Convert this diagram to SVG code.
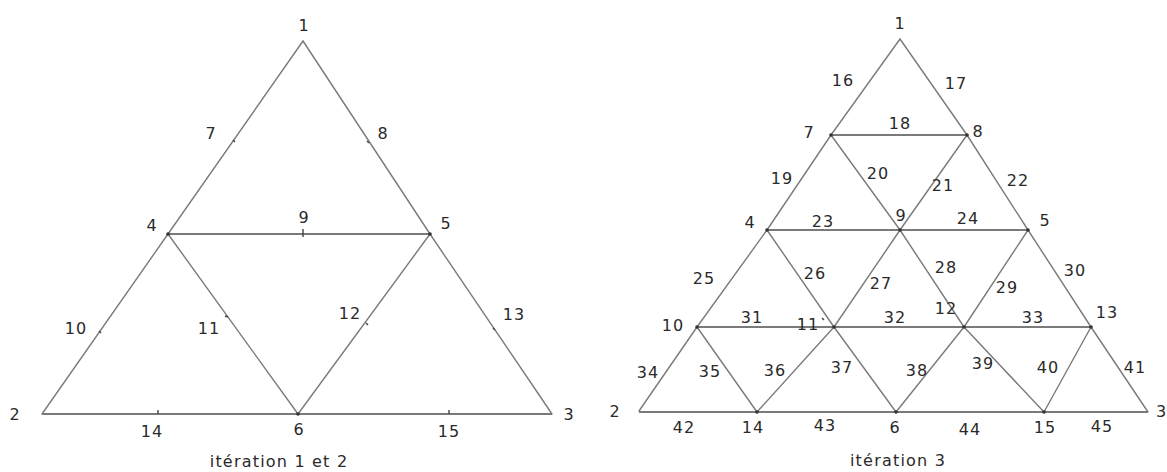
<svg xmlns="http://www.w3.org/2000/svg" width="1167" height="472" viewBox="0 0 1167 472">
<style>
  .ln { stroke: #7a7a7a; stroke-width: 1.4; fill: none; stroke-linecap: round; }
  .hz { stroke: #7a7a7a; stroke-width: 1.8; fill: none; }
  .tk { stroke: #444; stroke-width: 1.4; }
  .pt { fill: #333; }
  text { font-family: "DejaVu Sans", "Liberation Sans", sans-serif; font-size: 16px; fill: #2a2a2a; text-anchor: middle; letter-spacing: 1px; }
  .title { font-size: 16px; letter-spacing: 1.2px; }
</style>
<rect width="1167" height="472" fill="#ffffff"/>

<!-- ================= LEFT: itération 1 et 2 ================= -->
<g id="connectors-left">
  <line class="ln" x1="303" y1="41" x2="168" y2="234"/>
  <line class="ln" x1="168" y1="234" x2="42" y2="414"/>
  <line class="ln" x1="303" y1="41" x2="430" y2="234"/>
  <line class="ln" x1="430" y1="234" x2="552" y2="414"/>
  <line class="hz" x1="168" y1="234" x2="430" y2="234"/>
  <line class="hz" x1="42" y1="414" x2="552" y2="414"/>
  <line class="ln" x1="168" y1="234" x2="298" y2="414"/>
  <line class="ln" x1="430" y1="234" x2="298" y2="414"/>
</g>
<g id="left-n1"><text x="304" y="31">1</text></g>
<g id="left-n2"><text x="15" y="420">2</text></g>
<g id="left-n3"><text x="569" y="420">3</text></g>
<g id="left-n4"><circle class="pt" cx="168" cy="234" r="1.8"/><text x="152" y="231">4</text></g>
<g id="left-n5"><circle class="pt" cx="430" cy="234" r="1.8"/><text x="446" y="229">5</text></g>
<g id="left-n6"><circle class="pt" cx="298" cy="414" r="1.8"/><text x="299" y="435">6</text></g>
<g id="left-n7"><line class="tk" x1="233" y1="140" x2="235" y2="142"/><text x="211" y="139">7</text></g>
<g id="left-n8"><line class="tk" x1="367" y1="141" x2="369" y2="143"/><text x="383" y="139">8</text></g>
<g id="left-n9"><line class="tk" x1="303" y1="229" x2="303" y2="237"/><text x="304" y="223">9</text></g>
<g id="left-n10"><line class="tk" x1="99" y1="331" x2="101" y2="333"/><text x="76" y="334">10</text></g>
<g id="left-n11"><line class="tk" x1="225" y1="316" x2="228" y2="317"/><text x="209" y="334">11</text></g>
<g id="left-n12"><line class="tk" x1="366" y1="323" x2="368" y2="325"/><text x="350" y="319">12</text></g>
<g id="left-n13"><line class="tk" x1="493" y1="328" x2="495" y2="330"/><text x="514" y="320">13</text></g>
<g id="left-n14"><line class="tk" x1="158" y1="410" x2="158" y2="414"/><text x="152" y="437">14</text></g>
<g id="left-n15"><line class="tk" x1="449" y1="410" x2="449" y2="414"/><text x="449" y="437">15</text></g>
<text class="title" x="279" y="467">itération 1 et 2</text>

<!-- ================= RIGHT: itération 3 ================= -->
<g id="connectors-right">
  <line class="ln" x1="900" y1="39" x2="831" y2="135"/>
  <line class="ln" x1="831" y1="135" x2="767" y2="230"/>
  <line class="ln" x1="767" y1="230" x2="697" y2="327"/>
  <line class="ln" x1="697" y1="327" x2="639" y2="411"/>
  <line class="ln" x1="900" y1="39" x2="967" y2="135"/>
  <line class="ln" x1="967" y1="135" x2="1028" y2="230"/>
  <line class="ln" x1="1028" y1="230" x2="1091" y2="327"/>
  <line class="ln" x1="1091" y1="327" x2="1148" y2="412"/>
  <line class="hz" x1="831" y1="135" x2="967" y2="135"/>
  <line class="hz" x1="767" y1="230" x2="1028" y2="230"/>
  <line class="hz" x1="697" y1="327" x2="1091" y2="327"/>
  <line class="hz" x1="639" y1="412" x2="1148" y2="412"/>
  <line class="ln" x1="831" y1="135" x2="900" y2="230"/>
  <line class="ln" x1="967" y1="135" x2="900" y2="230"/>
  <line class="ln" x1="767" y1="230" x2="834" y2="327"/>
  <line class="ln" x1="900" y1="230" x2="834" y2="327"/>
  <line class="ln" x1="900" y1="230" x2="964" y2="327"/>
  <line class="ln" x1="1028" y1="230" x2="964" y2="327"/>
  <line class="ln" x1="697" y1="327" x2="757" y2="412"/>
  <line class="ln" x1="834" y1="327" x2="757" y2="412"/>
  <line class="ln" x1="834" y1="327" x2="896" y2="412"/>
  <line class="ln" x1="964" y1="327" x2="896" y2="412"/>
  <line class="ln" x1="964" y1="327" x2="1044" y2="412"/>
  <line class="ln" x1="1091" y1="327" x2="1044" y2="412"/>
</g>
<g id="right-edge-labels">
  <text x="843" y="86">16</text>
  <text x="956" y="89">17</text>
  <text x="900" y="129">18</text>
  <text x="782" y="184">19</text>
  <text x="878" y="179">20</text>
  <text x="943" y="191">21</text>
  <text x="1018" y="186">22</text>
  <text x="823" y="227">23</text>
  <text x="968" y="224">24</text>
  <text x="704" y="284">25</text>
  <text x="815" y="279">26</text>
  <text x="881" y="289">27</text>
  <text x="946" y="273">28</text>
  <text x="1007" y="293">29</text>
  <text x="1075" y="276">30</text>
  <text x="752" y="323">31</text>
  <text x="895" y="323">32</text>
  <text x="1033" y="323">33</text>
  <text x="648" y="378">34</text>
  <text x="710" y="377">35</text>
  <text x="775" y="376">36</text>
  <text x="842" y="373">37</text>
  <text x="917" y="376">38</text>
  <text x="983" y="369">39</text>
  <text x="1048" y="373">40</text>
  <text x="1135" y="373">41</text>
  <text x="684" y="433">42</text>
  <text x="825" y="431">43</text>
  <text x="970" y="435">44</text>
  <text x="1102" y="432">45</text>
</g>
<g id="right-n1"><text x="900" y="29">1</text></g>
<g id="right-n2"><text x="615" y="417">2</text></g>
<g id="right-n3"><text x="1156" y="417" style="text-anchor:start">3</text></g>
<g id="right-n4"><circle class="pt" cx="767" cy="230" r="1.8"/><text x="750" y="228">4</text></g>
<g id="right-n5"><circle class="pt" cx="1028" cy="230" r="1.8"/><text x="1045" y="226">5</text></g>
<g id="right-n6"><circle class="pt" cx="896" cy="412" r="1.8"/><text x="895" y="433">6</text></g>
<g id="right-n7"><circle class="pt" cx="831" cy="135" r="1.8"/><text x="809" y="138">7</text></g>
<g id="right-n8"><circle class="pt" cx="967" cy="135" r="1.8"/><text x="978" y="137">8</text></g>
<g id="right-n9"><circle class="pt" cx="900" cy="230" r="1.8"/><text x="901" y="221">9</text></g>
<g id="right-n10"><circle class="pt" cx="697" cy="327" r="1.8"/><text x="673" y="331">10</text></g>
<g id="right-n11"><circle class="pt" cx="834" cy="327" r="1.8"/><line class="tk" x1="822" y1="318" x2="824" y2="320"/><text x="808" y="330">11</text></g>
<g id="right-n12"><circle class="pt" cx="964" cy="327" r="1.8"/><text x="946" y="314">12</text></g>
<g id="right-n13"><circle class="pt" cx="1091" cy="327" r="1.8"/><text x="1107" y="318">13</text></g>
<g id="right-n14"><circle class="pt" cx="757" cy="412" r="1.8"/><text x="753" y="433">14</text></g>
<g id="right-n15"><circle class="pt" cx="1044" cy="412" r="1.8"/><text x="1045" y="433">15</text></g>
<text class="title" x="898" y="466">itération 3</text>
</svg>
